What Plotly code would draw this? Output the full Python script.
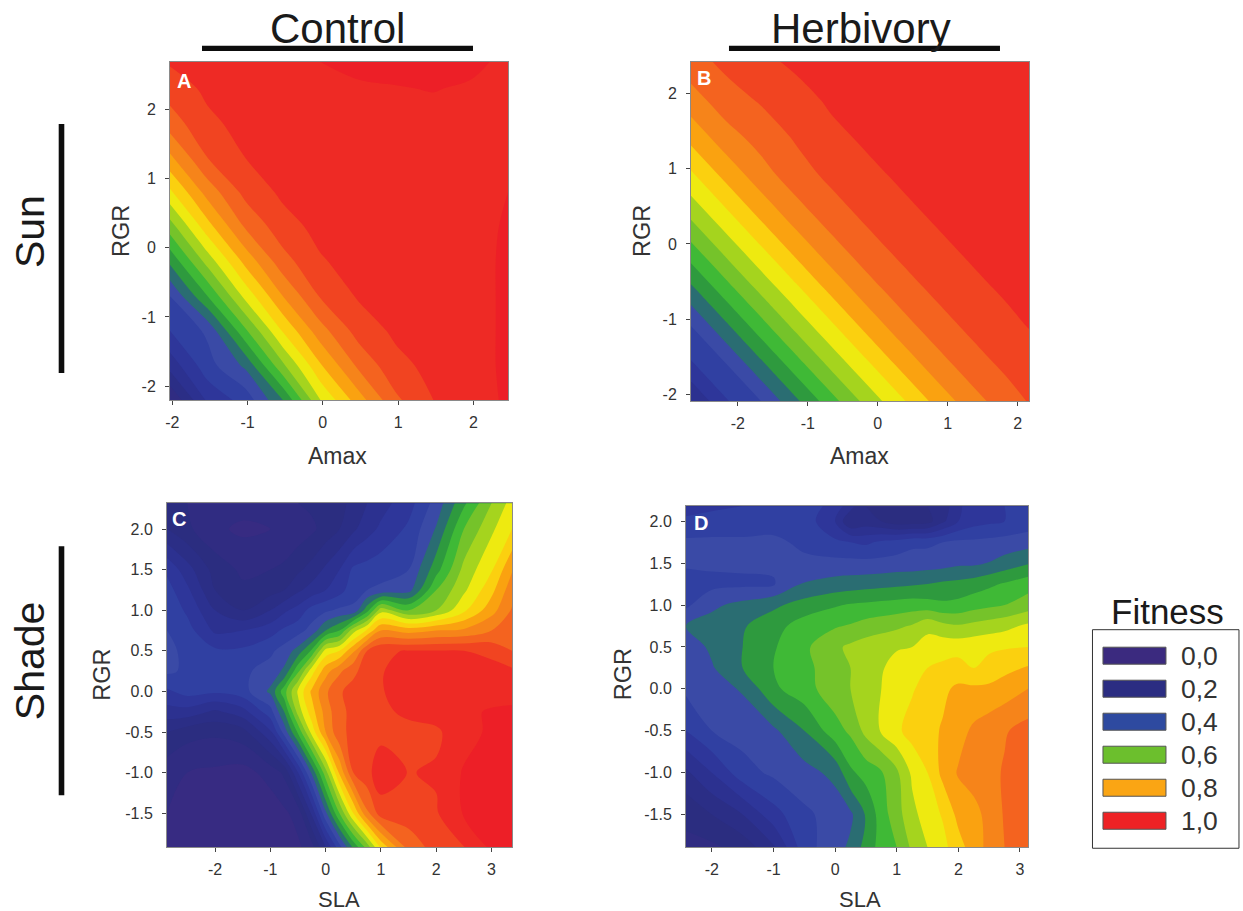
import plotly.graph_objects as go

W, H = 1243, 911

BAND_COLORS = [
    "#3b2a80", "#3b2a80", "#372b82", "#302c82", "#2b2d80", "#2b2e86", "#2c3190",
    "#2e369a", "#3040a2", "#3a4aa6", "#2a6d72", "#2e9a3e", "#3fb936", "#75c32a",
    "#a5d41e", "#eeea10", "#fbd00f", "#faa210", "#f6841a", "#f4631f", "#f14421",
    "#ee2a25", "#ed1f27", "#ed1f27",
]

A_X = [-2.03, -1.53, -1.03, -0.53, -0.03, 0.47, 0.97, 1.47, 1.97, 2.46]
A_Y = [-2.2, -1.7, -1.2, -0.7, -0.2, 0.3, 0.8, 1.3, 1.8, 2.3, 2.68]
A_Z = [
    [.15, .31, .37, .50, .70, .825, .94, 1.0, 1.02, 1.06],
    [.27, .38, .46, .64, .795, .91, .985, 1.015, 1.03, 1.06],
    [.35, .41, .59, .755, .88, .97, 1.01, 1.02, 1.03, 1.06],
    [.40, .55, .715, .85, .955, 1.005, 1.02, 1.03, 1.03, 1.06],
    [.51, .67, .815, .93, .995, 1.02, 1.03, 1.03, 1.03, 1.06],
    [.625, .78, .905, .98, 1.015, 1.03, 1.03, 1.03, 1.035, 1.055],
    [.74, .87, .965, 1.01, 1.02, 1.03, 1.03, 1.03, 1.035, 1.05],
    [.84, .95, 1.0, 1.02, 1.03, 1.03, 1.03, 1.03, 1.035, 1.045],
    [.925, .99, 1.015, 1.03, 1.03, 1.035, 1.035, 1.035, 1.035, 1.04],
    [.975, 1.01, 1.03, 1.03, 1.04, 1.045, 1.048, 1.052, 1.045, 1.04],
    [1.005, 1.02, 1.03, 1.04, 1.05, 1.06, 1.065, 1.065, 1.06, 1.04],
]

B_X = [-2.67, -2.17, -1.67, -1.17, -0.67, -0.17, 0.33, 0.83, 1.33, 1.83, 2.16]
B_Y = [-2.09, -1.59, -1.09, -0.59, -0.09, 0.41, 0.91, 1.41, 1.91, 2.42]
B_Z = [
    [.25, .345, .40, .49, .58, .665, .74, .815, .877, .928, .953],
    [.345, .40, .49, .58, .665, .74, .815, .877, .928, .961, .977],
    [.40, .49, .58, .665, .74, .815, .877, .928, .961, .986, 1.002],
    [.49, .58, .665, .74, .815, .877, .928, .961, .986, 1.008, 1.02],
    [.58, .665, .74, .815, .877, .928, .961, .986, 1.008, 1.027, 1.033],
    [.665, .74, .815, .877, .928, .961, .986, 1.008, 1.027, 1.035, 1.04],
    [.74, .815, .877, .928, .961, .986, 1.008, 1.027, 1.035, 1.04, 1.04],
    [.815, .877, .92, .955, .986, 1.008, 1.027, 1.035, 1.04, 1.04, 1.04],
    [.877, .928, .955, .98, 1.008, 1.027, 1.035, 1.04, 1.04, 1.04, 1.04],
    [.93, .962, .987, 1.01, 1.028, 1.035, 1.04, 1.04, 1.04, 1.04, 1.04],
]

C_X = [-2.87, -2.5, -2, -1.5, -1, -.75, -.5, -.25, 0, .25, .5, .75, 1, 1.5, 2, 2.5, 3, 3.37]
C_Y = [-1.92, -1.5, -1, -.5, -.25, 0, .25, .5, .75, 1, 1.25, 1.5, 2, 2.32]
C_Z = [
    [.08, .06, .05, .05, .06, .07, .09, .13, .25, .38, .51, .62, .76, .92, .97, .998, 1.06, 1.07],
    [.1, .08, .06, .06, .07, .09, .12, .26, .44, .6, .75, .89, .975, .975, .995, 1.055, 1.07, 1.07],
    [.12, .1, .09, .08, .12, .16, .3, .46, .63, .81, .95, .985, 1.03, .998, 1.005, 1.055, 1.07, 1.07],
    [.2, .17, .16, .18, .29, .42, .56, .72, .85, .94, .96, .97, .985, .985, .992, 1.03, 1.06, 1.07],
    [.28, .28, .24, .28, .38, .5, .67, .78, .87, .94, .96, .975, .99, 1.01, 1.02, 1.04, 1.055, 1.06],
    [.34, .37, .36, .38, .46, .58, .71, .81, .89, .945, .965, .98, .997, 1.02, 1.03, 1.03, 1.03, 1.03],
    [.41, .39, .37, .39, .42, .46, .59, .73, .83, .89, .94, .97, .997, 1.02, 1.03, 1.03, 1.02, 1.01],
    [.41, .39, .36, .36, .39, .42, .47, .56, .72, .75, .84, .95, .995, 1.002, 1.002, 1.0, .985, .95],
    [.4, .37, .29, .3, .33, .36, .38, .42, .5, .55, .68, .76, .85, .83, .85, .86, .9, .93],
    [.39, .34, .25, .2, .25, .29, .32, .37, .39, .41, .41, .53, .68, .6, .65, .74, .83, .905],
    [.37, .31, .2, .16, .18, .2, .24, .27, .3, .33, .38, .4, .41, .43, .6, .69, .785, .88],
    [.34, .27, .18, .14, .15, .16, .19, .22, .26, .3, .36, .37, .38, .40, .53, .665, .745, .845],
    [.2, .16, .11, .09, .1, .11, .12, .14, .17, .2, .24, .28, .31, .36, .455, .6, .69, .75],
    [.18, .15, .13, .12, .13, .14, .15, .16, .17, .19, .21, .25, .28, .33, .42, .54, .65, .72],
]

D_X = [-2.42, -2, -1.5, -1, -.5, 0, .25, .5, .75, 1, 1.25, 1.5, 1.75, 2, 2.25, 2.5, 2.75, 3.13]
D_Y = [-1.89, -1.5, -1, -.5, 0, .25, .5, .75, 1, 1.25, 1.5, 1.75, 2, 2.18]
D_Z = [
    [.14, .14, .17, .24, .38, .43, .46, .52, .57, .6, .66, .7, .735, .78, .825, .865, .9, .93],
    [.16, .2, .25, .33, .39, .42, .44, .505, .575, .63, .685, .725, .755, .815, .835, .865, .905, .93],
    [.24, .3, .38, .41, .43, .465, .54, .57, .595, .64, .71, .75, .815, .855, .87, .885, .905, .93],
    [.35, .4, .42, .44, .5, .58, .61, .665, .705, .74, .77, .785, .805, .83, .86, .88, .895, .92],
    [.41, .43, .455, .54, .58, .63, .65, .675, .7, .72, .745, .77, .79, .81, .81, .81, .825, .85],
    [.43, .445, .5, .55, .585, .63, .65, .67, .695, .72, .745, .75, .76, .77, .75, .77, .785, .805],
    [.42, .46, .5, .545, .59, .64, .66, .675, .685, .695, .7, .715, .73, .73, .735, .74, .745, .75],
    [.45, .47, .495, .53, .575, .595, .605, .62, .63, .64, .655, .69, .665, .655, .665, .675, .685, .71],
    [.39, .44, .465, .49, .52, .545, .555, .56, .565, .57, .575, .57, .56, .565, .58, .59, .6, .625],
    [.37, .385, .39, .395, .455, .47, .475, .48, .485, .49, .495, .5, .51, .515, .525, .54, .555, .58],
    [.41, .41, .41, .41, .41, .415, .415, .415, .415, .42, .42, .425, .43, .44, .44, .452, .47, .495],
    [.41, .41, .41, .41, .39, .36, .35, .34, .36, .37, .39, .39, .4, .41, .41, .415, .42, .43],
    [.36, .37, .37, .38, .38, .3, .2, .22, .2, .17, .17, .18, .24, .3, .33, .34, .35, .37],
    [.33, .34, .35, .38, .38, .33, .27, .2, .2, .2, .2, .2, .22, .29, .33, .34, .35, .37],
]

INT_TICKS = [-2, -1, 0, 1, 2]
INT_LABELS = ["-2", "-1", "0", "1", "2"]
SLA_TICKS = [-2, -1, 0, 1, 2, 3]
SLA_LABELS = ["-2", "-1", "0", "1", "2", "3"]
HALF_TICKS = [-1.5, -1, -.5, 0, .5, 1, 1.5, 2]
HALF_LABELS = ["-1.5", "-1.0", "-0.5", "0.0", "0.5", "1.0", "1.5", "2.0"]

PANELS = [
    dict(name="A", x=A_X, y=A_Y, z=A_Z, xpx=(170, 508), ypx=(62, 400), xr=[-2.03, 2.46], yr=[-2.2, 2.68],
         xt=INT_TICKS, xl=INT_LABELS, yt=INT_TICKS, yl=INT_LABELS, xtitle="Amax", xtitle_at=(338, 456), xtitle_size=23,
         rgr_at=(121, 231), letter_at=(184.5, 81)),
    dict(name="B", x=B_X, y=B_Y, z=B_Z, xpx=(691, 1029), ypx=(62, 401), xr=[-2.67, 2.16], yr=[-2.09, 2.42],
         xt=INT_TICKS, xl=INT_LABELS, yt=INT_TICKS, yl=INT_LABELS, xtitle="Amax", xtitle_at=(860, 456), xtitle_size=23,
         rgr_at=(642, 231), letter_at=(704, 78)),
    dict(name="C", x=C_X, y=C_Y, z=C_Z, xpx=(167, 512), ypx=(503, 847), xr=[-2.87, 3.37], yr=[-1.92, 2.32],
         xt=SLA_TICKS, xl=SLA_LABELS, yt=HALF_TICKS, yl=HALF_LABELS, xtitle="SLA", xtitle_at=(339, 899), xtitle_size=22,
         rgr_at=(102.5, 674), letter_at=(179, 518.5)),
    dict(name="D", x=D_X, y=D_Y, z=D_Z, xpx=(686, 1028), ypx=(506, 847), xr=[-2.42, 3.13], yr=[-1.89, 2.18],
         xt=SLA_TICKS, xl=SLA_LABELS, yt=HALF_TICKS, yl=HALF_LABELS, xtitle="SLA", xtitle_at=(860, 899), xtitle_size=22,
         rgr_at=(623, 674), letter_at=(701, 522.5)),
]

LEGEND_LABELS = ["0,0", "0,2", "0,4", "0,6", "0,8", "1,0"]
LEGEND_COLORS = ["#3b2a7f", "#2b2d82", "#2e4aa0", "#6cbf2d", "#faa514", "#ee2225"]

FONT = "Liberation Sans"
TEXT = "#333333"


def px(x):
    return (x - 5) / 0.996 / W


def py(y):
    return 1 - y / 0.9975 / H


def label(text, cx, cy, size, color=TEXT, angle=0):
    return dict(text=text, x=px(cx), y=py(cy), xref="paper", yref="paper", textangle=angle,
                xanchor="center", yanchor="middle", showarrow=False,
                font=dict(size=size, family=FONT, color=color))


colorscale = [[i / (len(BAND_COLORS) - 1), c] for i, c in enumerate(BAND_COLORS)]

fig = go.Figure()
layout = dict(
    width=W, height=H, autosize=False,
    margin=dict(l=0, r=0, t=0, b=0),
    paper_bgcolor="white", plot_bgcolor="white",
    font=dict(family=FONT, color=TEXT),
    showlegend=False,
)
annotations, shapes = [], []

for i, p in enumerate(PANELS):
    sfx = "" if i == 0 else str(i + 1)
    fig.add_trace(go.Contour(
        x=p["x"], y=p["y"], z=p["z"], xaxis="x" + sfx, yaxis="y" + sfx,
        autocontour=False,
        contours=dict(start=0, end=1.1, size=0.05, coloring="fill", showlines=False),
        line=dict(width=0), colorscale=colorscale, showscale=False, hoverinfo="skip",
    ))
    axis_common = dict(
        showgrid=False, zeroline=False, showline=True, mirror=True,
        linecolor="#8a8a8a", linewidth=1, ticks="outside", ticklen=4, tickwidth=1,
        tickcolor="#444444", tickfont=dict(size=16, family=FONT, color=TEXT),
        tickmode="array",
    )
    layout["xaxis" + sfx] = dict(
        axis_common, domain=[px(p["xpx"][0]), px(p["xpx"][1])], range=p["xr"], anchor="y" + sfx,
        tickvals=p["xt"], ticktext=p["xl"], ticklabelstandoff=4,
    )
    layout["yaxis" + sfx] = dict(
        axis_common, domain=[py(p["ypx"][1]), py(p["ypx"][0])], range=p["yr"], anchor="x" + sfx,
        tickvals=p["yt"], ticktext=p["yl"], ticklabelstandoff=6,
    )
    annotations.append(label(f"<b>{p['name']}</b>", *p["letter_at"], 20, "white"))
    annotations.append(label(p["xtitle"], *p["xtitle_at"], p["xtitle_size"]))
    annotations.append(label("RGR", *p["rgr_at"], 23.5, TEXT, -90))

for text, cx, cy, size, angle in [
    ("Control", 338, 28, 42, 0), ("Herbivory", 861, 28, 42, 0),
    ("Sun", 30, 231, 41, -90), ("Shade", 30, 660, 41, -90),
    ("Fitness", 1168, 611, 35, 0),
]:
    annotations.append(label(text, cx, cy, size, "#1a1a1a", angle))

for x0, y0, x1, y1 in [(202, 45.7, 473, 51), (729, 45.7, 1000, 51), (58.7, 124, 64.3, 373), (58.7, 546, 64.3, 795)]:
    shapes.append(dict(type="rect", xref="paper", yref="paper", x0=px(x0), x1=px(x1), y0=py(y0), y1=py(y1),
                       fillcolor="#0d0d0d", line=dict(width=0)))

shapes.append(dict(type="rect", xref="paper", yref="paper", x0=px(1092.5), x1=px(1239), y0=py(629.5), y1=py(848),
                   fillcolor="white", line=dict(width=1, color="#333333")))
for k, (lab, col) in enumerate(zip(LEGEND_LABELS, LEGEND_COLORS)):
    top = 647 + k * 33
    shapes.append(dict(type="rect", xref="paper", yref="paper", x0=px(1103), x1=px(1166), y0=py(top), y1=py(top + 17),
                       fillcolor=col, line=dict(width=1, color="#555555")))
    annotations.append(label(lab, 1200, top + 8.5, 26.5))

layout["annotations"] = annotations
layout["shapes"] = shapes
fig.update_layout(**layout)
fig.write_html("out.html", config=dict(displayModeBar=False),
               post_script="document.body.style.margin='0';document.body.style.overflow='hidden';")
